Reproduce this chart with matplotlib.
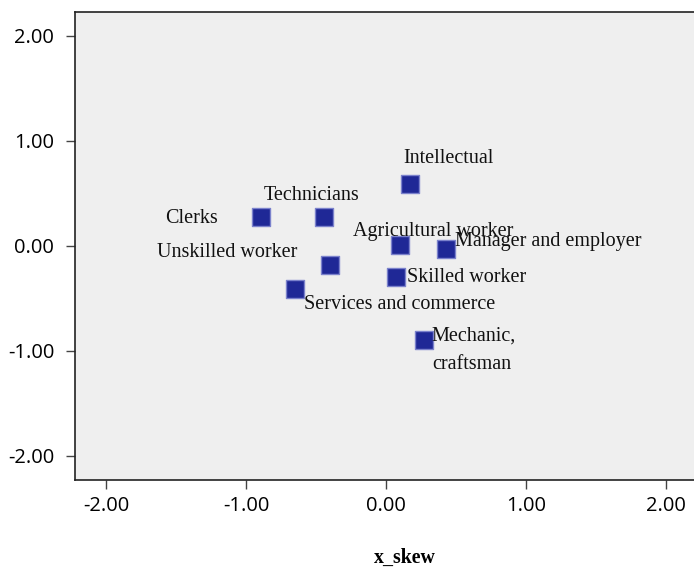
import matplotlib
matplotlib.use("Agg")
import matplotlib.pyplot as plt
from matplotlib.ticker import FormatStrFormatter

plt.rcParams['axes.unicode_minus'] = False

# points (x_skew, y)
labels = ['Intellectual', 'Technicians', 'Clerks', 'Agricultural worker',
          'Manager and employer', 'Unskilled worker', 'Skilled worker',
          'Services and commerce', 'Mechanic,\ncraftsman']
x_vals = [0.17, -0.44, -0.89, 0.10, 0.43, -0.40, 0.07, -0.65, 0.27]
y_vals = [0.59, 0.27, 0.27, 0.01, -0.03, -0.18, -0.30, -0.41, -0.90]
ticks = [-2, -1, 0, 1, 2]

# label offsets in pixels (dx, dy up) and alignment
offs = [(39, 25, 'center'), (-13, 22, 'center'), (-44, -1, 'right'),
        (33, 13, 'center'), (9, 7, 'left'), (-33, 12, 'right'),
        (11, 0, 'left'), (9, -16, 'left'), (8, -10, 'left')]

fig = plt.figure(figsize=(6.94, 5.67), dpi=100)
ax = fig.add_axes([74.5/694, 1-480/567, 623/694, 468/567])
ax.set_facecolor('#efefef')

ax.scatter(x_vals, y_vals, marker='s', s=170, color='#1f2896',
           edgecolors='#7b82cc', linewidths=1, zorder=3)

for lab, x, y, (dx, dy, ha) in zip(labels, x_vals, y_vals, offs):
    ax.annotate(lab, (x, y), xytext=(dx*0.72, dy*0.72), textcoords='offset points',
                ha=ha, va='center', fontsize=14.5, family='Liberation Serif',
                linespacing=1.65, color='#111111')

ax.set_xlim(-2.225, 2.225)
ax.set_ylim(-2.23, 2.225)
ax.set_xticks(ticks)
ax.set_yticks(ticks)
ax.xaxis.set_major_formatter(FormatStrFormatter('%.2f'))
ax.yaxis.set_major_formatter(FormatStrFormatter('%.2f'))
ax.tick_params(direction='out', length=6.5, width=1, color='#444444',
               labelsize=14.5, pad=5)
ax.tick_params(axis='y', pad=8)
for t in ax.get_xticklabels() + ax.get_yticklabels():
    t.set_family('Open Sans')
for s in ['left', 'bottom', 'top']:
    ax.spines[s].set_linewidth(1.2)
    ax.spines[s].set_color('#222222')
ax.spines['right'].set_visible(False)

fig.text(405/694, 1-558/567, 'x_skew', ha='center', va='center',
         fontsize=14.3, fontweight='bold', family='Liberation Serif')

fig.savefig('out.png', dpi=100)
